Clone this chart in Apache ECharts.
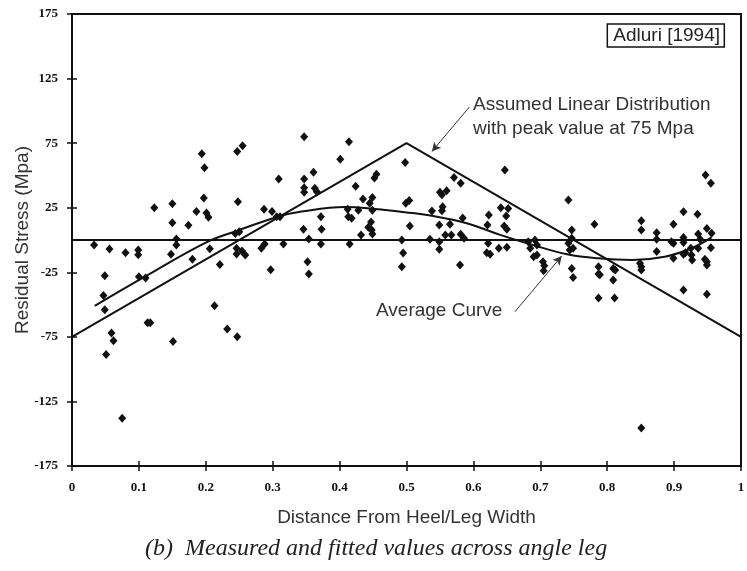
<!DOCTYPE html>
<html>
<head>
<meta charset="utf-8">
<script src="https://cdn.jsdelivr.net/npm/echarts@6/dist/echarts.min.js"></script>
<style>
  html, body { margin: 0; padding: 0; background: #fff; }
  #main { width: 747px; height: 571px; }
</style>
</head>
<body>
<div id="main"></div>
<script>
// measured residual stress points [distance/leg width, stress MPa]
var measured = [
  [0.033, -3.9], [0.047, -43], [0.049, -27.6], [0.049, -54], [0.051, -88.6], [0.056, -7],
  [0.059, -72], [0.062, -78], [0.075, -138], [0.080, -9.8], [0.099, -7.8], [0.099, -11.4],
  [0.100, -28.4], [0.110, -29.5], [0.113, -64], [0.117, -64], [0.123, 25], [0.148, -11],
  [0.150, 28], [0.150, 13.4], [0.151, -78.5], [0.156, 0.8], [0.156, -3.9], [0.174, 11.4],
  [0.180, -15], [0.186, 22], [0.194, 66.7], [0.197, 32.6], [0.198, 56], [0.201, 21],
  [0.204, 17.6], [0.206, -6.7], [0.213, -51], [0.221, -19], [0.232, -69], [0.244, 5],
  [0.246, -6.4], [0.246, -10.9], [0.247, 68.5], [0.247, -75], [0.248, 29.7], [0.250, 6.4],
  [0.254, -8.5], [0.259, -11.6], [0.255, 72.9],
  [0.283, -6.4], [0.288, -3.1], [0.287, 23.8], [0.297, -23], [0.299, 22], [0.306, 18],
  [0.311, 18], [0.309, 47.3], [0.316, -3.1], [0.346, 8.3], [0.347, 80], [0.347, 47.3],
  [0.347, 40.5], [0.347, 37], [0.352, -16.8], [0.354, -26.4], [0.354, 0.8], [0.361, 52.5],
  [0.363, 40], [0.366, 37.4], [0.372, 18], [0.373, 8.3], [0.372, -3.1], [0.401, 62.5],
  [0.412, 23.8], [0.413, 18], [0.414, 76], [0.415, -3.1], [0.418, 16.8], [0.424, 41.6],
  [0.428, 23], [0.432, 3.9], [0.435, 31.8], [0.443, 9.8], [0.445, 28.4], [0.447, 14],
  [0.448, 7.8], [0.449, 33], [0.449, 23], [0.449, 4.7], [0.452, 48], [0.455, 51],
  [0.493, 0], [0.493, -20.7], [0.495, -10], [0.498, 60], [0.499, 28.4], [0.504, 30.5],
  [0.505, 10.9],
  [0.535, 0.5], [0.538, 22.5], [0.549, 11.6], [0.549, -1.3], [0.549, -7.2], [0.550, 37],
  [0.553, 35], [0.560, 38.2], [0.553, 22.7], [0.554, 25.8], [0.558, 3.9], [0.565, 12.2],
  [0.567, 3.9], [0.571, 48.3], [0.581, 44], [0.580, -19.4], [0.581, 4.4], [0.584, 17],
  [0.586, 1.3], [0.620, -9.8], [0.621, 11.6], [0.622, -2.6], [0.623, 19.4], [0.625, -11],
  [0.638, -6.4], [0.641, 25], [0.646, 10.9], [0.647, 54.3], [0.649, 18.6], [0.650, 8.3],
  [0.650, -5.7], [0.652, 24.3], [0.682, -1.3], [0.685, -6.4], [0.690, -13], [0.692, 0],
  [0.695, -3.9], [0.695, -11.6], [0.704, -16.8], [0.706, -20], [0.705, -23.8], [0.742, 31],
  [0.742, -2.6], [0.747, 7.8], [0.747, 1.3], [0.749, -6.4], [0.744, -7.8], [0.747, -22],
  [0.749, -29],
  [0.781, 12.2], [0.787, -20.7], [0.787, -26.4], [0.789, -27], [0.787, -45], [0.809, -22],
  [0.812, -23.2], [0.809, -31], [0.811, -45], [0.851, 15], [0.851, 7.8], [0.849, -18],
  [0.851, -20.7], [0.851, -23.3], [0.851, -145.5], [0.874, 5.7], [0.874, 0.5], [0.874, -9],
  [0.899, 12.2], [0.896, -1.3], [0.899, -2.6], [0.899, -14.2], [0.914, 21.9], [0.914, 2],
  [0.914, -2], [0.914, -11], [0.917, -9.8], [0.925, -6.4], [0.926, -11.6], [0.927, -15.5],
  [0.914, -38.8], [0.935, 20], [0.936, 4.7], [0.939, 0.5], [0.936, -6.4], [0.947, 50.4],
  [0.955, 44], [0.949, 9], [0.956, 5.2], [0.955, -6], [0.946, -15], [0.949, -16.8],
  [0.949, -19.4], [0.949, -42]
];

// fitted average curve
var averageCurve = [
  [0.034, -51], [0.107, -29], [0.2, -2], [0.246, 7], [0.308, 18], [0.343, 22],
  [0.408, 25.5], [0.453, 24], [0.498, 21.5], [0.54, 18.6], [0.59, 13], [0.64, 4],
  [0.69, -4], [0.74, -11], [0.787, -14.2], [0.837, -15.5], [0.886, -13], [0.926, -6.4],
  [0.956, 2]
];

// assumed linear distribution with peak at 75 MPa
var linearDist = [[0, -75], [0.5, 75], [1, -75]];
var zeroLine = [[0, 0], [1, 0]];

var yTicks = [-175, -125, -75, -25, 25, 75, 125, 175];

// annotation arrows [from, to]
var arrowLinear = [[0.594, 103], [0.538, 68.5]];
var arrowAverage = [[0.662, -55.6], [0.732, -12.4]];

var chartDom = document.getElementById('main');
var myChart = echarts.init(chartDom);
var option;

var tickFont = {
  fontFamily: 'Liberation Serif',
  fontWeight: 'bold',
  fontSize: 13,
  color: '#111'
};
var nameFont = {
  fontFamily: 'Liberation Sans',
  fontSize: 19,
  color: '#333'
};
var tickLine = { color: '#111', width: 1.5 };

option = {
  backgroundColor: '#fff',
  animation: false,
  title: [
    {
      text: 'Adluri [1994]',
      right: 22,
      top: 24,
      padding: [2, 5, 2, 6],
      borderColor: '#111',
      borderWidth: 1.5,
      textStyle: {
        fontFamily: 'Liberation Sans',
        fontWeight: 'normal',
        fontSize: 19,
        color: '#222'
      }
    },
    {
      text: '(b)  Measured and fitted values across angle leg',
      left: 145,
      top: 537,
      padding: 0,
      textStyle: {
        fontFamily: 'Liberation Serif',
        fontStyle: 'italic',
        fontWeight: 'normal',
        fontSize: 24,
        color: '#222'
      }
    }
  ],
  graphic: [
    {
      type: 'text',
      left: 473,
      top: 93,
      style: {
        text: 'Assumed Linear Distribution\nwith peak value at 75 Mpa',
        font: '19px "Liberation Sans"',
        lineHeight: 24,
        fill: '#333'
      }
    },
    {
      type: 'text',
      left: 376,
      top: 301,
      style: {
        text: 'Average Curve',
        font: '19px "Liberation Sans"',
        fill: '#333'
      }
    }
  ],
  grid: {
    left: 72,
    right: 6,
    top: 14,
    bottom: 105,
    outerBoundsMode: 'none',
    show: true,
    borderColor: '#111',
    borderWidth: 2
  },
  xAxis: [
    {
      type: 'value',
      min: 0,
      max: 1,
      interval: 0.1,
      name: 'Distance From Heel/Leg Width',
      nameLocation: 'middle',
      nameGap: 42,
      nameMoveOverlap: false,
      nameTextStyle: nameFont,
      splitLine: { show: false },
      axisLine: { onZero: false, lineStyle: { color: '#111', width: 2 } },
      axisTick: { length: 5, lineStyle: tickLine },
      axisLabel: Object.assign({ margin: 15, formatter: function (v) { return String(+v.toFixed(1)); } }, tickFont)
    },
    {
      // inner half of the crossing ticks
      type: 'value',
      position: 'bottom',
      min: 0,
      max: 1,
      interval: 0.1,
      splitLine: { show: false },
      axisLine: { show: false, onZero: false },
      axisLabel: { show: false },
      axisTick: { inside: true, length: 5, lineStyle: tickLine }
    }
  ],
  yAxis: [
    {
      type: 'value',
      min: -175,
      max: 175,
      name: 'Residual Stress (Mpa)',
      nameLocation: 'middle',
      nameGap: 40,
      nameMoveOverlap: false,
      nameRotate: 90,
      nameTextStyle: nameFont,
      splitLine: { show: false },
      axisLine: { onZero: false, lineStyle: { color: '#111', width: 2 } },
      axisTick: { length: 5, customValues: yTicks, lineStyle: tickLine },
      axisLabel: Object.assign({ margin: 14, customValues: yTicks }, tickFont)
    },
    {
      type: 'value',
      position: 'left',
      min: -175,
      max: 175,
      splitLine: { show: false },
      axisLine: { show: false, onZero: false },
      axisLabel: { show: false },
      axisTick: { inside: true, length: 5, customValues: yTicks, lineStyle: tickLine }
    }
  ],
  series: [
    {
      type: 'line',
      data: zeroLine,
      symbol: 'none',
      lineStyle: { color: '#111', width: 2 },
      silent: true
    },
    {
      type: 'line',
      data: linearDist,
      symbol: 'none',
      lineStyle: { color: '#111', width: 2 },
      silent: true,
      markLine: {
        silent: true,
        symbol: ['none', 'arrow'],
        symbolSize: [7, 9],
        label: { show: false },
        lineStyle: { color: '#333', width: 1, type: 'solid' },
        data: [
          [{ coord: arrowLinear[0] }, { coord: arrowLinear[1] }],
          [{ coord: arrowAverage[0] }, { coord: arrowAverage[1] }]
        ]
      }
    },
    {
      type: 'line',
      data: averageCurve,
      symbol: 'none',
      smooth: 0.4,
      lineStyle: { color: '#111', width: 2 },
      silent: true
    },
    {
      type: 'scatter',
      data: measured,
      symbol: 'diamond',
      symbolSize: [8, 9],
      itemStyle: { color: '#111', opacity: 1 },
      z: 5
    }
  ]
};

option && myChart.setOption(option);
</script>
</body>
</html>
